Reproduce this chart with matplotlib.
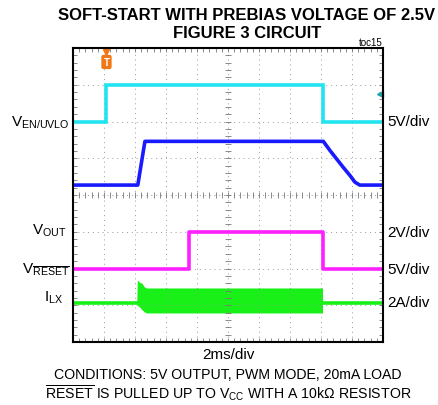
import matplotlib.pyplot as plt
import matplotlib.transforms as mtransforms
import numpy as np

plt.rcParams['font.family'] = ['Liberation Sans', 'DejaVu Sans']
plt.rcParams['mathtext.fontset'] = 'custom'
plt.rcParams['mathtext.rm'] = 'Liberation Sans'
plt.rcParams['mathtext.it'] = 'Liberation Sans'

# time axis in ms (2ms/div, 10 div), amplitudes in screen divisions (8 div)
en_t = [0, 2.16, 2.16, 16.1, 16.1, 20]
en_y = [6.0, 6.0, 7.0, 7.0, 6.0, 6.0]

blue_t = [0, 4.18, 4.64, 16.15, 16.58, 17.01, 17.44, 17.87, 18.19, 18.5, 20]
blue_y = [4.27, 4.27, 5.46, 5.46, 5.21, 4.98, 4.75, 4.53, 4.35, 4.27, 4.27]

vout_t = [0, 7.48, 7.48, 16.1, 16.1, 20]
vout_y = [2.0, 2.0, 3.0, 3.0, 2.0, 2.0]

ilx_t = [0, 4.11, 16.1, 16.1, 20]
ilx_y = [1.06, 1.06, 1.06, 1.06, 1.06]
burst_t = [4.11, 4.15, 4.3, 4.45, 4.6, 4.75, 5.0, 16.1]
burst_hi = [1.06, 1.69, 1.62, 1.6, 1.5, 1.47, 1.47, 1.47]
burst_lo = [1.06, 1.0, 0.95, 0.88, 0.82, 0.79, 0.79, 0.79]

trig_t = 2.16

W, H = 439, 406
fig = plt.figure(figsize=(W / 100, H / 100), dpi=100)
ax = fig.add_axes([73 / W, 1 - 343 / H, 310 / W, 294 / H])
ax.set_xlim(0, 20)
ax.set_ylim(0, 8)

# graticule
ax.set_xticks(np.arange(0, 20.01, 2))
ax.set_yticks(np.arange(0, 8.01, 1))
ax.set_xticks(np.arange(0, 20.01, 0.4), minor=True)
ax.set_yticks(np.arange(0, 8.01, 0.2), minor=True)
ax.tick_params(which='both', direction='in', top=True, right=True, length=3,
               width=0.6, color='#777777', labelbottom=False, labelleft=False)
ax.grid(True, which='major', color='#999999', linestyle=(0, (1, 4)), linewidth=0.7)
for s in ax.spines.values():
    s.set_linewidth(1.5)
    s.set_color('black')
ax.plot(np.arange(0, 20.01, 0.4), np.full(51, 4.0), '|', color='#777777', ms=4, mew=0.6)
ax.plot(np.full(41, 10.0), np.arange(0, 8.01, 0.2), '_', color='#777777', ms=4, mew=0.6)

# traces
ax.plot(en_t, en_y, color='#22e4f0', lw=2.6, solid_joinstyle='miter')
ax.plot(blue_t, blue_y, color='#1a1aff', lw=2.6)
ax.plot(vout_t, vout_y, color='#ff20ff', lw=2.6)
ax.fill_between(burst_t, burst_lo, burst_hi, color='#18f018', lw=0)
ax.plot(ilx_t, ilx_y, color='#18f018', lw=2.6)

# trigger marker and ch1 offset arrow
ax.plot([trig_t], [7.9], marker='v', color='#f07818', ms=5, clip_on=False)
ax.text(trig_t, 7.62, 'T', color='white', fontsize=7, fontweight='bold', ha='center', va='center',
        bbox=dict(boxstyle='round,pad=0.15', fc='#f07818', ec='#f07818'))
ax.plot([19.8], [6.75], marker='<', color='#20a0a8', ms=4, clip_on=False)

# channel labels
tl = mtransforms.blended_transform_factory(ax.transAxes, ax.transData)
lab = dict(fontsize=11, va='center', transform=tl)
ax.text(-0.012, 6.0, r'V$_{\mathregular{EN/UVLO}}$', ha='right', **lab)
ax.text(-0.02, 3.05, r'V$_{\mathregular{OUT}}$', ha='right', **lab)
ax.text(-0.01, 2.0, r'V$_{\overline{\mathregular{RESET}}}$', ha='right', **lab)
ax.text(-0.032, 1.22, r'I$_{\mathregular{LX}}$', ha='right', **lab)
ax.text(1.015, 6.0, '5V/div', ha='left', **lab)
ax.text(1.015, 3.0, '2V/div', ha='left', **lab)
ax.text(1.015, 2.0, '5V/div', ha='left', **lab)
ax.text(1.015, 1.1, '2A/div', ha='left', **lab)

ax.text(1.0, 1.005, 'toc15', fontsize=7, ha='right', va='bottom', transform=ax.transAxes)

fig.text(247 / W, 1 - 15 / H, 'SOFT-START WITH PREBIAS VOLTAGE OF 2.5V', fontsize=12,
         fontweight='bold', ha='center', va='center')
fig.text(247 / W, 1 - 33 / H, 'FIGURE 3 CIRCUIT', fontsize=12, fontweight='bold',
         ha='center', va='center')
fig.text(228 / W, 1 - 355 / H, '2ms/div', fontsize=11, ha='center', va='center')
fig.text(228 / W, 1 - 375 / H, 'CONDITIONS: 5V OUTPUT, PWM MODE, 20mA LOAD', fontsize=10.2,
         ha='center', va='center')
fig.text(228 / W, 1 - 393 / H,
         r'$\overline{\mathregular{RESET}}$ IS PULLED UP TO V$_{\mathregular{CC}}$ WITH A 10k$\Omega$ RESISTOR',
         fontsize=10.2, ha='center', va='center')

fig.savefig('out.png', dpi=100)
